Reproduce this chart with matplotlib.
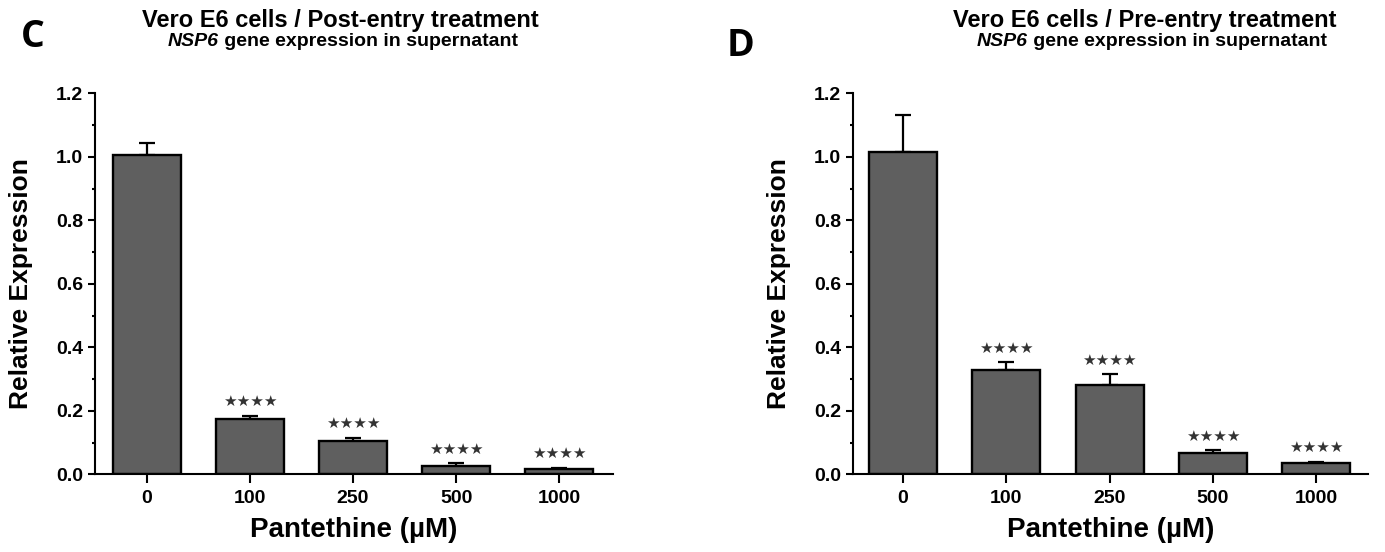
import numpy as np
import matplotlib
matplotlib.use("Agg")
import matplotlib.pyplot as plt
from matplotlib.ticker import MultipleLocator, FormatStrFormatter

# Pantethine doses (uM) on the x axis
concentrations = ["0", "100", "250", "500", "1000"]

# NSP6 relative expression, post-entry treatment (mean, SEM)
post_mean = [1.005, 0.173, 0.105, 0.027, 0.018]
post_sem = [0.038, 0.012, 0.009, 0.008, 0.003]

# NSP6 relative expression, pre-entry treatment (mean, SEM)
pre_mean = [1.015, 0.328, 0.281, 0.068, 0.036]
pre_sem = [0.117, 0.025, 0.034, 0.007, 0.004]

# significance vs. untreated control
stars = ["", "★★★★", "★★★★", "★★★★", "★★★★"]

plt.rcParams["font.family"] = ["Liberation Sans", "DejaVu Sans"]
plt.rcParams["font.weight"] = "bold"

W, H = 1385, 552


def draw_panel(ax, means, sems, xlim):
    x = np.arange(len(concentrations))
    ax.bar(x, means, width=0.66, color="#5f5f5f", edgecolor="black",
           linewidth=1.7, zorder=2)
    ax.errorbar(x, means, yerr=[np.zeros(len(sems)), sems], fmt="none",
                ecolor="black", elinewidth=1.6, capsize=5.5, capthick=1.6,
                zorder=1)
    for xi, m, s, lab in zip(x, means, sems, stars):
        if lab:
            ax.annotate(lab, (xi, m + s), xytext=(0, 7), textcoords="offset points",
                        ha="center", va="baseline", fontsize=11,
                        family="DejaVu Sans", color="#333333")

    ax.set_xlim(*xlim)
    ax.set_ylim(0, 1.2)
    ax.set_xticks(x)
    ax.set_xticklabels(concentrations)
    ax.yaxis.set_major_locator(MultipleLocator(0.2))
    ax.yaxis.set_minor_locator(MultipleLocator(0.1))
    ax.yaxis.set_major_formatter(FormatStrFormatter("%.1f"))

    for side in ("top", "right"):
        ax.spines[side].set_visible(False)
    ax.spines["left"].set_bounds(0, 1.2)
    ax.spines["left"].set_linewidth(1.5)
    ax.spines["bottom"].set_linewidth(1.5)

    ax.tick_params(axis="y", which="major", length=5, width=1.5, labelsize=14, pad=3.5)
    ax.tick_params(axis="y", which="minor", length=2.5, width=1.5)
    ax.tick_params(axis="x", length=6.5, width=1.5, labelsize=14, pad=5)

    ax.set_ylabel("Relative Expression", fontsize=19, fontweight="bold")
    ax.yaxis.set_label_coords(-0.12, 0.5)
    ax.set_xlabel("Pantethine (µM)", fontsize=20, fontweight="bold")
    ax.xaxis.set_label_coords(0.5, -0.146)
    ax.xaxis.label.set_va("center")


def subtitle(fig, xc, y):
    # italic gene name followed by plain bold text, centred as one line
    gene = fig.text(0, y, "NSP6", ha="left", va="center", fontsize=14,
                    fontweight="bold", style="italic")
    rest = fig.text(0, y, " gene expression in supernatant", ha="left",
                    va="center", fontsize=14, fontweight="bold")
    renderer = fig.canvas.get_renderer()
    w_gene = gene.get_window_extent(renderer).width / (W)
    w_rest = rest.get_window_extent(renderer).width / (W)
    x0 = xc - (w_gene + w_rest) / 2
    gene.set_x(x0)
    rest.set_x(x0 + w_gene)


fig = plt.figure(figsize=(W / 100, H / 100), dpi=100)

ax_post = fig.add_axes([95 / W, 1 - 474.3 / H, 518 / W, 381 / H])
draw_panel(ax_post, post_mean, post_sem, (-0.5, 4.52))

ax_pre = fig.add_axes([852.7 / W, 1 - 474.3 / H, 515.3 / W, 381 / H])
draw_panel(ax_pre, pre_mean, pre_sem, (-0.487, 4.50))

# panel headings
fig.text(340 / W, 1 - 20 / H, "Vero E6 cells / Post-entry treatment",
         ha="center", va="center", fontsize=17, fontweight="bold")
subtitle(fig, 343 / W, 1 - 42 / H)
fig.text(33 / W, 1 - 37 / H, "C", ha="center", va="center", fontsize=27,
         fontweight="bold", family=["Open Sans", "DejaVu Sans"])

fig.text(1145 / W, 1 - 20 / H, "Vero E6 cells / Pre-entry treatment",
         ha="center", va="center", fontsize=17, fontweight="bold")
subtitle(fig, 1152 / W, 1 - 42 / H)
fig.text(740 / W, 1 - 46 / H, "D", ha="center", va="center", fontsize=27,
         fontweight="bold", family=["Open Sans", "DejaVu Sans"])

fig.savefig("out.png", dpi=100)
plt.close(fig)
